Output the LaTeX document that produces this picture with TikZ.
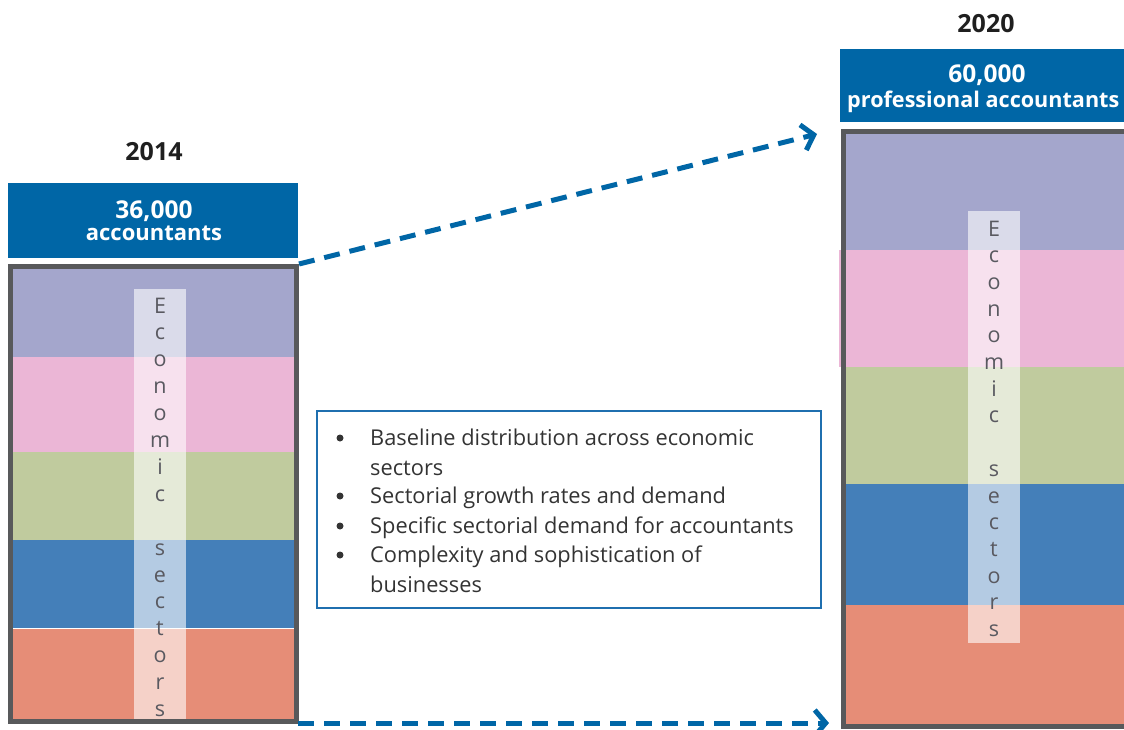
\documentclass[tikz,border=0pt]{standalone}
\usepackage{fontspec}
\setmainfont{Open Sans}
\usetikzlibrary{arrows.meta}
\definecolor{hdrblue}{HTML}{0066A6}
\definecolor{framegray}{HTML}{58595B}
\definecolor{bpurple}{HTML}{A4A6CC}
\definecolor{bpink}{HTML}{EBB6D6}
\definecolor{bgreen}{HTML}{C0CB9E}
\definecolor{bblue}{HTML}{447FB9}
\definecolor{bsalmon}{HTML}{E68D77}
\definecolor{txtgray}{HTML}{333333}
\definecolor{letgray}{HTML}{595960}
\definecolor{boxblue}{HTML}{1F6FAF}
\begin{document}
\begin{tikzpicture}[x=1pt,y=-1pt,
  yearlbl/.style={anchor=base, inner sep=0pt, text=black!88, font=\fontsize{25}{28}\selectfont\bfseries},
  hdrbox/.style={fill=hdrblue, draw=none, anchor=north west, inner sep=0pt},
  hdrtxt/.style={anchor=base, inner sep=0pt, text=white, font=\fontsize{23}{26}\selectfont\bfseries},
  framebox/.style={draw=framegray, line width=5pt, fill=none, inner sep=0pt},
  stripbox/.style={fill=white, fill opacity=0.6, draw=none, anchor=north west, inner sep=0pt},
  vlet/.style={anchor=base, inner sep=0pt, text=letgray, font=\fontsize{21.5}{24}\selectfont},
  flowarrow/.style={draw=hdrblue, line width=5pt, dash pattern=on 16pt off 10pt, -{Straight Barb[length=11pt,width=26pt]}},
  listbox/.style={draw=boxblue, line width=2pt, anchor=north west, inner sep=0pt},
  bul/.style={circle, fill=txtgray, draw=none, inner sep=0pt, minimum size=7pt},
  itemtxt/.style={anchor=base west, inner sep=0pt, text=txtgray, font=\fontsize{21.8}{24}\selectfont}
]
\useasboundingbox (0,0) rectangle (1124,729);
\clip (0,0) rectangle (1124,729);

% ---------------- 2014 column ----------------
\node[yearlbl] (y2014) at (154,160) {2014};
\node[hdrbox, minimum width=290pt, minimum height=75pt] (h2014) at (8,183) {};
\node[hdrtxt, font=\fontsize{24.5}{26}\selectfont\bfseries] (n2014) at (154,218) {36,000};
\node[hdrtxt, font=\fontsize{22}{26}\selectfont\bfseries] (a2014) at (154,240) {accountants};

\fill[bpurple] (13,268) rectangle (294,357);
\fill[bpink]   (13,357) rectangle (294,452);
\fill[bgreen]  (13,452) rectangle (294,540);
\fill[bblue]   (13,540) rectangle (294,628);
\fill[bsalmon] (13,628) rectangle (294,720);
\draw[white, line width=1pt] (13,628) -- (294,628);
\node[stripbox, minimum width=52pt, minimum height=431pt] (s2014) at (134,289) {};
\foreach \ch [count=\i] in {E,c,o,n,o,m,i,c,{},s,e,c,t,o,r,s}{
  \node[vlet] (la\i) at (160,{313+(\i-1)*26.9}) {\ch};
}
\node[framebox, minimum width=286pt, minimum height=455pt] (f2014) at (153.5,494) {};

% ---------------- 2020 column ----------------
\node[yearlbl] (y2020) at (986,32) {2020};
\node[hdrbox, minimum width=300pt, minimum height=73pt] (h2020) at (840,49) {};
\node[hdrtxt, font=\fontsize{24.5}{26}\selectfont\bfseries] (n2020) at (987,82) {60,000};
\node[hdrtxt, anchor=base west, font=\fontsize{21.6}{26}\selectfont\bfseries] (a2020) at (847,107) {professional accountants};

\fill[bpink]   (839,250) rectangle (846,367);
\fill[bpurple] (846,134) rectangle (1130,250);
\fill[bpink]   (846,250) rectangle (1130,367);
\fill[bgreen]  (846,367) rectangle (1130,484);
\fill[bblue]   (846,484) rectangle (1130,605);
\fill[bsalmon] (846,605) rectangle (1130,724);
\node[stripbox, minimum width=52pt, minimum height=432pt] (s2020) at (968,211) {};
\foreach \ch [count=\i] in {E,c,o,n,o,m,i,c,{},s,e,c,t,o,r,s}{
  \node[vlet] (lb\i) at (994,{236+(\i-1)*26.7}) {\ch};
}
\node[framebox, minimum width=300pt, minimum height=595pt] (f2020) at (993,429) {};

% ---------------- arrows ----------------
\coordinate (tipA) at (817,134);
\coordinate (startB) at (298,723);
\coordinate (tipB) at (829,723);
\draw[flowarrow] (f2014.north east) -- (tipA);
\draw[flowarrow] (startB) -- (tipB);

% ---------------- factor box ----------------
\node[listbox, minimum width=504pt, minimum height=197pt] (lbox) at (316,410) {};
\node[bul] (b1) at (340,438) {};
\node[itemtxt] (t1) at (370,445) {Baseline distribution across economic};
\node[itemtxt] (t1b) at (370,475) {sectors};
\node[bul] (b2) at (340,496) {};
\node[itemtxt] (t2) at (370,503) {Sectorial growth rates and demand};
\node[bul] (b3) at (340,526) {};
\node[itemtxt] (t3) at (370,533) {Specific sectorial demand for accountants};
\node[bul] (b4) at (340,555) {};
\node[itemtxt] (t4) at (370,562) {Complexity and sophistication of};
\node[itemtxt] (t4b) at (370,592) {businesses};
\end{tikzpicture}
\end{document}
